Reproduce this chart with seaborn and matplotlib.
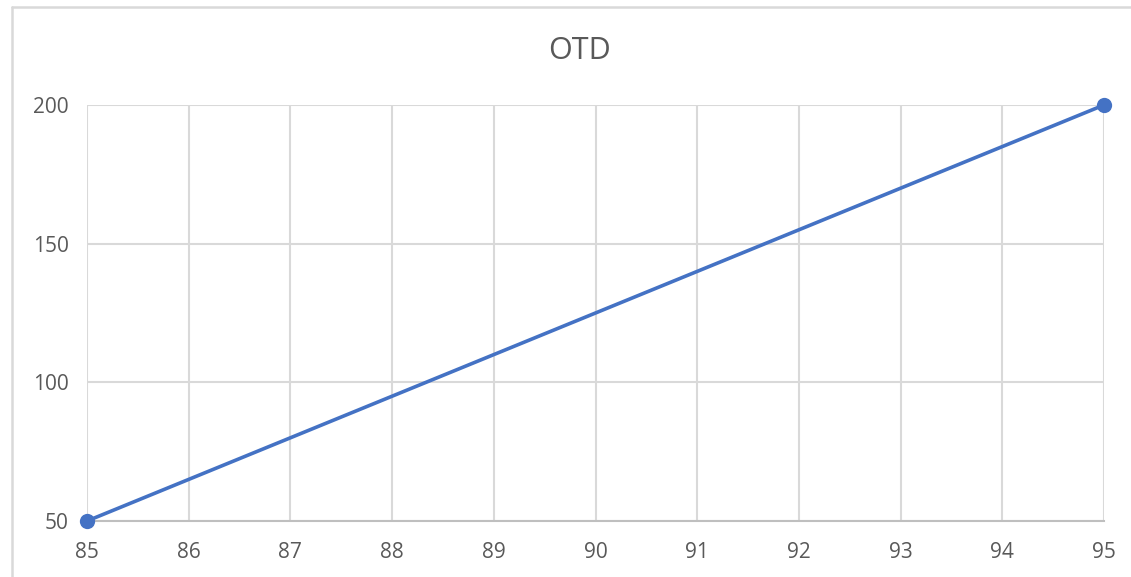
import matplotlib
matplotlib.use("Agg")
import matplotlib.pyplot as plt
import seaborn as sns
import pandas as pd
from matplotlib.lines import Line2D

x_vals = [85, 95]
y_vals = [50, 200]
x_ticks = [85, 86, 87, 88, 89, 90, 91, 92, 93, 94, 95]
y_ticks = [50, 100, 150, 200]
title = "OTD"

sns.set_theme(style="white")
plt.rcParams['font.family'] = ['Open Sans', 'DejaVu Sans']

W, H = 1131, 577
fig = plt.figure(figsize=(W / 100, H / 100), dpi=100)
ax = fig.add_axes([87 / W, 1 - 521 / H, (1104 - 87) / W, (521 - 105) / H])

df = pd.DataFrame({"x": x_vals, "y": y_vals})
sns.lineplot(data=df, x="x", y="y", ax=ax, color="#4472C4", linewidth=2.6,
             marker="o", markersize=11, markeredgewidth=0, zorder=5, clip_on=False)

ax.set_xlim(85, 95)
ax.set_ylim(50, 200)
ax.set_xticks(x_ticks)
ax.set_yticks(y_ticks)
ax.set_xticklabels([str(v) for v in x_ticks])
ax.set_yticklabels([str(v) for v in y_ticks])
ax.grid(True, color="#d9d9d9", linewidth=1.5)
ax.set_axisbelow(True)
ax.set_xlabel("")
ax.set_ylabel("")
for s in ["top", "right", "left"]:
    ax.spines[s].set_visible(False)
ax.spines["bottom"].set_color("#bfbfbf")
ax.spines["bottom"].set_linewidth(1.5)
ax.tick_params(axis="both", length=0, labelsize=15, labelcolor="#595959")
ax.tick_params(axis="x", pad=15)
ax.tick_params(axis="y", pad=13)

fig.text(579 / W, 1 - 51 / H, title, ha="center", va="center", fontsize=22, color="#595959")

# chart area border (left and top visible)
fig.add_artist(Line2D([11.5 / W, 11.5 / W], [0, 1 - 6.5 / H], transform=fig.transFigure,
                      color="#d9d9d9", linewidth=1.8))
fig.add_artist(Line2D([11.5 / W, 1], [1 - 6.5 / H, 1 - 6.5 / H], transform=fig.transFigure,
                      color="#d9d9d9", linewidth=1.8))

fig.savefig("out.png", dpi=100, facecolor="white")
